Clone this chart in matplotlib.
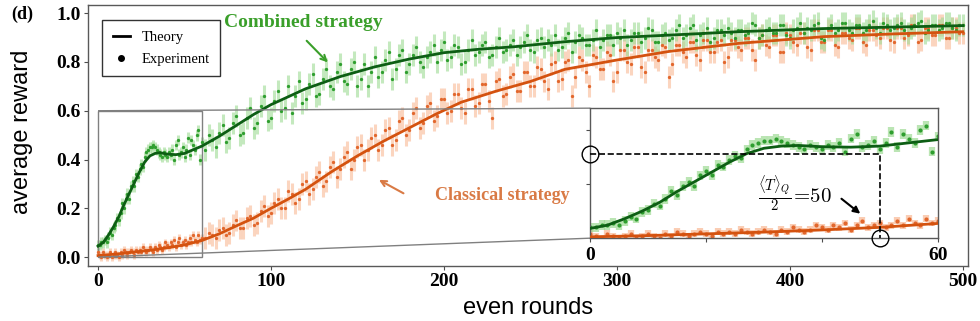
#!/usr/bin/env python3
"""
Average reward vs even rounds: combined (quantum) vs classical strategy,
theory curves with experimental points, plus a zoom of the first 60 rounds.
"""

import numpy as np
import matplotlib
matplotlib.use('Agg')
import matplotlib.pyplot as plt
from matplotlib.lines import Line2D
from mpl_toolkits.axes_grid1.inset_locator import mark_inset

# ---- theory curves ----
green_theory_x = [0, 3, 6, 9, 12, 15, 18, 21, 24, 27, 30, 33, 36, 40, 45, 50, 55, 60,
                  70, 80, 90, 100, 120, 140, 160, 180, 200, 220, 240, 270, 300, 330,
                  370, 420, 460, 500]
green_theory_y = [0.045, 0.06, 0.09, 0.125, 0.165, 0.215, 0.26, 0.305, 0.35, 0.39, 0.415,
                  0.425, 0.428, 0.422, 0.42, 0.425, 0.44, 0.455, 0.495, 0.54, 0.585, 0.625,
                  0.69, 0.74, 0.78, 0.812, 0.838, 0.852, 0.862, 0.883, 0.90, 0.91, 0.924,
                  0.937, 0.943, 0.949]

orange_theory_x = [0, 10, 20, 30, 40, 50, 60, 70, 80, 90, 100, 110, 120, 135, 150, 165,
                   180, 195, 210, 230, 250, 270, 300, 330, 370, 420, 460, 500]
orange_theory_y = [0.006, 0.012, 0.02, 0.028, 0.038, 0.05, 0.068, 0.095, 0.128, 0.16,
                   0.20, 0.238, 0.278, 0.35, 0.415, 0.475, 0.53, 0.585, 0.635, 0.68, 0.72,
                   0.77, 0.808, 0.843, 0.876, 0.904, 0.915, 0.924]

# ---- experiment: every round up to 60, then every even round ----
exp_rounds = list(range(0, 61)) + list(range(62, 501, 2))

green_exp = [
    # 0..60
    0.05, 0.05, 0.06, 0.06, 0.07, 0.06, 0.08, 0.10, 0.09, 0.12,
    0.13, 0.16, 0.15, 0.18, 0.22, 0.20, 0.24, 0.26, 0.24, 0.29,
    0.31, 0.29, 0.34, 0.33, 0.36, 0.38, 0.37, 0.41, 0.43, 0.44,
    0.45, 0.45, 0.46, 0.45, 0.44, 0.43, 0.42, 0.41, 0.43, 0.42,
    0.41, 0.43, 0.42, 0.44, 0.40, 0.46, 0.48, 0.42, 0.43, 0.45,
    0.41, 0.44, 0.49, 0.42, 0.48, 0.46, 0.44, 0.50, 0.52, 0.40,
    0.47,
    # 62..500, step 2
    0.44, 0.50, 0.48, 0.45, 0.51, 0.54, 0.47, 0.49, 0.55, 0.58,
    0.50, 0.51, 0.57, 0.61, 0.53, 0.55, 0.62, 0.66, 0.56, 0.57,
    0.64, 0.68, 0.60, 0.61, 0.70, 0.59, 0.66, 0.72, 0.63, 0.65,
    0.71, 0.75, 0.66, 0.67, 0.73, 0.77, 0.70, 0.69, 0.76, 0.79,
    0.72, 0.71, 0.77, 0.80, 0.70, 0.73, 0.79, 0.70, 0.76, 0.82,
    0.74, 0.76, 0.81, 0.84, 0.73, 0.77, 0.83, 0.85, 0.76, 0.79,
    0.83, 0.86, 0.80, 0.78, 0.82, 0.84, 0.87, 0.80, 0.85, 0.88,
    0.81, 0.82, 0.87, 0.86, 0.79, 0.80, 0.85, 0.89, 0.83, 0.84,
    0.87, 0.88, 0.82, 0.83, 0.86, 0.90, 0.84, 0.85, 0.87, 0.89,
    0.83, 0.86, 0.88, 0.91, 0.85, 0.84, 0.89, 0.90, 0.86, 0.89,
    0.87, 0.91, 0.85, 0.86, 0.90, 0.92, 0.84, 0.88, 0.91, 0.90,
    0.87, 0.87, 0.89, 0.93, 0.86, 0.89, 0.91, 0.91, 0.87, 0.92,
    0.90, 0.93, 0.87, 0.89, 0.92, 0.92, 0.88, 0.90, 0.94, 0.93,
    0.88, 0.88, 0.91, 0.92, 0.89, 0.90, 0.93, 0.95, 0.90, 0.91,
    0.94, 0.95, 0.89, 0.91, 0.92, 0.94, 0.88, 0.90, 0.93, 0.93,
    0.91, 0.94, 0.92, 0.90, 0.93, 0.93, 0.91, 0.92, 0.96, 0.95,
    0.90, 0.91, 0.93, 0.94, 0.92, 0.92, 0.95, 0.95, 0.91, 0.90,
    0.93, 0.94, 0.96, 0.92, 0.94, 0.93, 0.95, 0.96, 0.90, 0.89,
    0.94, 0.95, 0.92, 0.93, 0.96, 0.96, 0.93, 0.92, 0.95, 0.95,
    0.92, 0.93, 0.95, 0.97, 0.94, 0.92, 0.96, 0.95, 0.93, 0.94,
    0.95, 0.96, 0.93, 0.92, 0.94, 0.95, 0.96, 0.97, 0.92, 0.93,
    0.95, 0.95, 0.93, 0.94, 0.96, 0.96, 0.94, 0.93, 0.95, 0.95,
]

orange_exp = [
    # 0..60
    0.02, 0.01, 0.00, 0.02, 0.01, 0.00, 0.01, 0.02, 0.00, 0.01,
    0.02, 0.01, 0.00, 0.02, 0.01, 0.03, 0.02, 0.01, 0.02, 0.03,
    0.02, 0.01, 0.03, 0.02, 0.03, 0.02, 0.04, 0.03, 0.02, 0.03,
    0.04, 0.03, 0.02, 0.04, 0.03, 0.05, 0.04, 0.03, 0.04, 0.06,
    0.05, 0.04, 0.06, 0.05, 0.07, 0.04, 0.06, 0.08, 0.05, 0.06,
    0.07, 0.05, 0.06, 0.08, 0.06, 0.09, 0.07, 0.06, 0.09, 0.07,
    0.08,
    # 62..500, step 2
    0.08, 0.10, 0.09, 0.08, 0.11, 0.12, 0.09, 0.10, 0.13, 0.15,
    0.12, 0.12, 0.16, 0.17, 0.13, 0.14, 0.19, 0.21, 0.17, 0.18,
    0.22, 0.24, 0.20, 0.20, 0.27, 0.26, 0.22, 0.24, 0.30, 0.31,
    0.26, 0.28, 0.33, 0.35, 0.29, 0.31, 0.37, 0.39, 0.33, 0.36,
    0.41, 0.43, 0.36, 0.40, 0.45, 0.46, 0.40, 0.44, 0.49, 0.50,
    0.44, 0.46, 0.52, 0.53, 0.46, 0.48, 0.56, 0.57, 0.50, 0.52,
    0.59, 0.61, 0.53, 0.55, 0.62, 0.63, 0.56, 0.58, 0.65, 0.65,
    0.59, 0.60, 0.67, 0.67, 0.61, 0.59, 0.69, 0.69, 0.62, 0.63,
    0.71, 0.71, 0.64, 0.57, 0.72, 0.73, 0.66, 0.67, 0.74, 0.75,
    0.68, 0.68, 0.76, 0.76, 0.70, 0.70, 0.78, 0.77, 0.72, 0.69,
    0.79, 0.80, 0.72, 0.73, 0.80, 0.81, 0.66, 0.74, 0.82, 0.81,
    0.76, 0.70, 0.83, 0.82, 0.77, 0.77, 0.84, 0.83, 0.72, 0.76,
    0.85, 0.85, 0.80, 0.79, 0.86, 0.86, 0.78, 0.76, 0.85, 0.85,
    0.82, 0.81, 0.87, 0.86, 0.74, 0.79, 0.87, 0.87, 0.84, 0.82,
    0.88, 0.88, 0.83, 0.81, 0.89, 0.89, 0.84, 0.84, 0.88, 0.89,
    0.80, 0.82, 0.89, 0.89, 0.86, 0.85, 0.90, 0.90, 0.85, 0.81,
    0.90, 0.91, 0.87, 0.86, 0.91, 0.91, 0.84, 0.84, 0.92, 0.91,
    0.88, 0.87, 0.92, 0.92, 0.86, 0.85, 0.93, 0.93, 0.88, 0.88,
    0.93, 0.93, 0.87, 0.86, 0.92, 0.92, 0.90, 0.89, 0.94, 0.94,
    0.88, 0.87, 0.93, 0.93, 0.91, 0.90, 0.94, 0.94, 0.89, 0.88,
    0.94, 0.94, 0.90, 0.91, 0.95, 0.95, 0.88, 0.89, 0.94, 0.94,
    0.91, 0.91, 0.95, 0.95, 0.90, 0.90, 0.94, 0.94, 0.92, 0.92,
]

# error bar half-widths (first 60 rounds / later rounds)
green_err_early, green_err_late = 0.022, 0.045
orange_err_early, orange_err_late = 0.016, 0.045

# half-time marker in the inset
half_time = 50
half_time_level = 0.39

x_ticks = [0, 100, 200, 300, 400, 500]
y_ticks = [0.0, 0.2, 0.4, 0.6, 0.8, 1.0]

G_DARK = '#0d5e14'
G_PT = '#2f9e2f'
G_BAR = '#9edb94'
O_DARK = '#d4520f'
O_PT = '#e2672d'
O_BAR = '#f9b995'

SERIF = 'Liberation Serif'
SANS = 'Liberation Sans'

plt.rcParams['mathtext.fontset'] = 'cm'


def draw_series(ax, ms=2.4, elw=2.2, alpha=0.6):
    r = np.array(exp_rounds)
    g_err = np.where(r <= 60, green_err_early, green_err_late)
    o_err = np.where(r <= 60, orange_err_early, orange_err_late)
    ax.errorbar(r, orange_exp, yerr=o_err, fmt='none', ecolor=O_BAR,
                elinewidth=elw, alpha=alpha, zorder=1)
    ax.errorbar(r, green_exp, yerr=g_err, fmt='none', ecolor=G_BAR,
                elinewidth=elw, alpha=alpha, zorder=1)
    ax.plot(r, orange_exp, 'o', color=O_PT, ms=ms, mew=0, zorder=2)
    ax.plot(r, green_exp, 'o', color=G_PT, ms=ms, mew=0, zorder=2)
    ax.plot(orange_theory_x, orange_theory_y, '-', color=O_DARK, lw=2.0, zorder=3)
    ax.plot(green_theory_x, green_theory_y, '-', color=G_DARK, lw=2.0, zorder=3)


def main():
    fig = plt.figure(figsize=(9.8, 3.21), dpi=100)
    ax = fig.add_axes([0.0898, 0.171, 0.898, 0.813])

    draw_series(ax)

    ax.set_xlim(-5.8, 503)
    ax.set_ylim(-0.037, 1.033)
    ax.set_xticks(x_ticks)
    ax.set_yticks(y_ticks)
    ax.set_yticklabels([f'{v:.1f}' for v in y_ticks])
    for lab in ax.get_xticklabels() + ax.get_yticklabels():
        lab.set_fontfamily(SERIF)
        lab.set_fontweight('bold')
        lab.set_fontsize(14)
    ax.tick_params(direction='out', length=3, width=0.8, color='0.3', pad=2)
    for s in ax.spines.values():
        s.set_color('0.35')
        s.set_linewidth(1.0)

    fig.text(0.022, 0.59, 'average reward', rotation=90, ha='center', va='center',
             fontsize=17, family=SANS)
    fig.text(0.539, 0.042, 'even rounds', ha='center', va='center',
             fontsize=17, family=SANS)
    fig.text(0.011, 0.955, '(d)', ha='left', va='center', fontsize=13,
             family=SERIF, fontweight='bold')

    # legend
    handles = [Line2D([], [], color='black', lw=2),
               Line2D([], [], color='black', marker='o', ls='none', ms=4)]
    leg = ax.legend(handles, ['Theory', 'Experiment'], loc='upper left',
                    bbox_to_anchor=(0.008, 0.97), fancybox=False, framealpha=1,
                    prop={'family': SERIF, 'size': 10.5}, handlelength=1.2,
                    borderpad=0.7, labelspacing=0.6)
    leg.get_frame().set_edgecolor('0.2')
    leg.get_frame().set_linewidth(1.0)

    # strategy labels
    ax.text(73, 0.96, 'Combined strategy', color='#3a9f2a', fontsize=14,
            family=SERIF, fontweight='bold', va='center', ha='left')
    ax.annotate('', xy=(134, 0.79), xytext=(119.5, 0.895),
                arrowprops=dict(arrowstyle='->', color='#3a9f2a', lw=1.5))
    ax.text(195, 0.252, 'Classical strategy', color='#d97a45', fontsize=13,
            family=SERIF, fontweight='bold', va='center', ha='left')
    ax.annotate('', xy=(161, 0.322), xytext=(178, 0.256),
                arrowprops=dict(arrowstyle='->', color='#d97a45', lw=1.5))

    # zoom inset
    axins = fig.add_axes([0.602, 0.258, 0.355, 0.405])
    draw_series(axins, ms=3, elw=4.5, alpha=0.7)
    axins.set_xlim(0, 60)
    axins.set_ylim(0, 0.6)
    axins.set_xticks([0, 20, 40, 60])
    axins.set_xticklabels(['0', '', '', '60'])
    axins.set_yticks([0.25, 0.5])
    axins.set_yticklabels([])
    for lab in axins.get_xticklabels():
        lab.set_fontfamily(SERIF)
        lab.set_fontweight('bold')
        lab.set_fontsize(14)
    axins.tick_params(direction='out', length=3, width=0.8, color='0.3', pad=3)
    for s in axins.spines.values():
        s.set_color('0.35')
        s.set_linewidth(1.0)

    axins.plot([0, half_time, half_time], [half_time_level, half_time_level, 0],
               'k--', lw=1.2, zorder=4)
    axins.plot([0], [half_time_level], 'o', ms=12, mfc='none', mec='black',
               mew=1.0, clip_on=False, zorder=5)
    axins.plot([half_time], [0], 'o', ms=12, mfc='none', mec='black',
               mew=1.0, clip_on=False, zorder=5)
    axins.text(29, 0.21, r'$\frac{\langle T\rangle_Q}{2}\!=\!50$', fontsize=15,
               ha='left', va='center')
    axins.annotate('', xy=(47, 0.105), xytext=(43, 0.19),
                   arrowprops=dict(arrowstyle='-|>', color='black', lw=1.5,
                                   mutation_scale=10))

    mark_inset(ax, axins, loc1=2, loc2=3, fc='none', ec='0.5', lw=1.0)

    fig.savefig('out.png', dpi=100)


if __name__ == "__main__":
    main()
